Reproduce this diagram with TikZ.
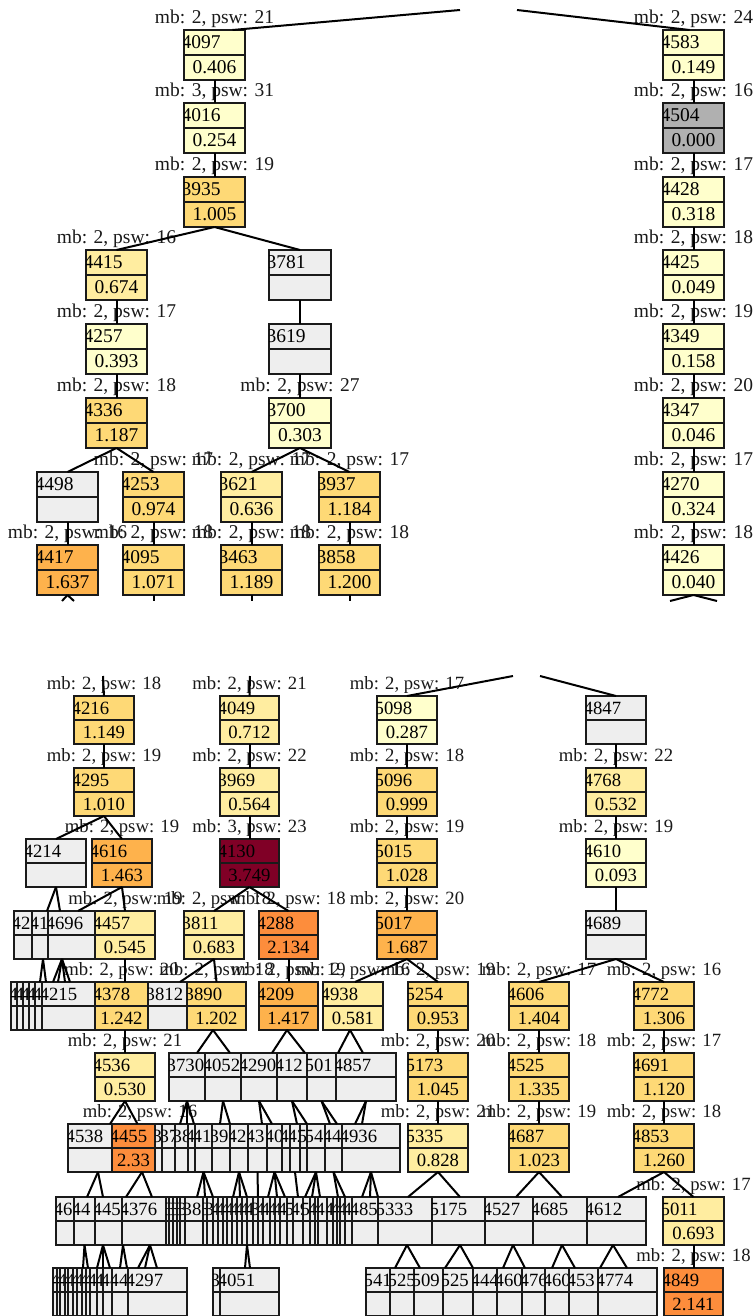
\documentclass[tikz,border=0pt]{standalone}
\usepackage{fontspec}
\setmainfont{Liberation Serif}
\definecolor{c0}{HTML}{FFFFCC}
\definecolor{c1}{HTML}{FFEDA0}
\definecolor{c2}{HTML}{FED976}
\definecolor{c3}{HTML}{FEB24C}
\definecolor{c4}{HTML}{FD8D3C}
\definecolor{c5}{HTML}{800026}
\definecolor{ge}{HTML}{EEEEEE}
\definecolor{gd}{HTML}{B0B0B0}
\definecolor{ink}{HTML}{1A1A1A}
\tikzset{
  recbox/.style={rectangle, draw=ink, line width=2pt, inner sep=0pt, outer sep=0pt},
  divline/.style={draw=ink, line width=2pt},
  idtext/.style={anchor=west, inner sep=0pt, text=black},
  valtext/.style={inner sep=0pt, text=black},
  labtext/.style={inner sep=0pt, text=ink},
  edge/.style={draw=black, line width=2pt}
}
\newcommand\mkrec[7]{%
  \node[recbox, fill=#5, minimum width={(#3-#2)*1pt}, minimum height={2*\RH*1pt}] (#1) at ({(#2+#3)/2},{#4+\RH}) {};
  \draw[divline] (#1.west) -- (#1.east);
  \begin{scope}
    \clip (#1.south west) rectangle (#1.north east);
    \node[idtext] (#1-i) at ([xshift=-2.5pt,yshift=\hh]#1.west) {#6};
    \node[valtext] (#1-v) at ([yshift=-\hh]#1.center) {#7};
  \end{scope}}
\newcommand\mklab[4]{\node[labtext] (#1) at (#2,#3) {#4};}
\begin{document}
\begin{tikzpicture}[x=1pt,y=-1pt]
\useasboundingbox (0,0) rectangle (754,1316);
\clip (0,0) rectangle (754,1316);
\fill[white] (0,0) rectangle (754,1316);
% ================= TOP SECTION =================
\begin{scope}[every node/.append style={font=\fontsize{19.5}{20}\selectfont}]
\def\RH{25}\def\hh{12.5pt}
\mklab{l4097}{214.5}{18.5}{mb: 2, psw: 21}
\mklab{l4016}{214.5}{91.5}{mb: 3, psw: 31}
\mklab{l3935}{214.5}{165.5}{mb: 2, psw: 19}
\mklab{l4415}{116.5}{238.5}{mb: 2, psw: 16}
\mklab{l4257}{116.5}{312.5}{mb: 2, psw: 17}
\mklab{l4336}{116.5}{386.5}{mb: 2, psw: 18}
\mklab{l3700}{300}{386.5}{mb: 2, psw: 27}
\mklab{l4253}{153.5}{460.5}{mb: 2, psw: 17}
\mklab{l3621}{251.5}{460.5}{mb: 2, psw: 17}
\mklab{l3937}{349.5}{460.5}{mb: 2, psw: 17}
\mklab{l4417}{67.5}{533.5}{mb: 2, psw: 16}
\mklab{l4095}{153.5}{533.5}{mb: 2, psw: 18}
\mklab{l3463}{251.5}{533.5}{mb: 2, psw: 18}
\mklab{l3858}{349.5}{533.5}{mb: 2, psw: 18}
\mklab{l4583}{693.5}{18.5}{mb: 2, psw: 24}
\mklab{l4504}{693.5}{91.5}{mb: 2, psw: 16}
\mklab{l4428}{693.5}{165.5}{mb: 2, psw: 17}
\mklab{l4425}{693.5}{238.5}{mb: 2, psw: 18}
\mklab{l4349}{693.5}{312.5}{mb: 2, psw: 19}
\mklab{l4347}{693.5}{386.5}{mb: 2, psw: 20}
\mklab{l4270}{693.5}{460.5}{mb: 2, psw: 17}
\mklab{l4426}{693.5}{533.5}{mb: 2, psw: 18}
\mkrec{n4097}{184}{245}{30}{c0}{4097}{0.406}
\mkrec{n4016}{184}{245}{103}{c0}{4016}{0.254}
\mkrec{n3935}{184}{245}{177}{c2}{3935}{1.005}
\mkrec{n4415}{86}{147}{250}{c1}{4415}{0.674}
\mkrec{n3781}{269}{331}{250}{ge}{3781}{}
\mkrec{n4257}{86}{147}{324}{c0}{4257}{0.393}
\mkrec{n3619}{269}{331}{324}{ge}{3619}{}
\mkrec{n4336}{86}{147}{398}{c2}{4336}{1.187}
\mkrec{n3700}{269}{331}{398}{c0}{3700}{0.303}
\mkrec{n4498}{37}{98}{472}{ge}{4498}{}
\mkrec{n4253}{123}{184}{472}{c2}{4253}{0.974}
\mkrec{n3621}{221}{282}{472}{c1}{3621}{0.636}
\mkrec{n3937}{319}{380}{472}{c2}{3937}{1.184}
\mkrec{n4417}{37}{98}{545}{c3}{4417}{1.637}
\mkrec{n4095}{123}{184}{545}{c2}{4095}{1.071}
\mkrec{n3463}{221}{282}{545}{c2}{3463}{1.189}
\mkrec{n3858}{319}{380}{545}{c2}{3858}{1.200}
\mkrec{n4583}{663}{724}{30}{c0}{4583}{0.149}
\mkrec{n4504}{663}{724}{103}{gd}{4504}{0.000}
\mkrec{n4428}{663}{724}{177}{c0}{4428}{0.318}
\mkrec{n4425}{663}{724}{250}{c0}{4425}{0.049}
\mkrec{n4349}{663}{724}{324}{c0}{4349}{0.158}
\mkrec{n4347}{663}{724}{398}{c0}{4347}{0.046}
\mkrec{n4270}{663}{724}{472}{c0}{4270}{0.324}
\mkrec{n4426}{663}{724}{545}{c0}{4426}{0.040}
\coordinate (ta) at (460,10);
\coordinate (tb) at (517,10);
\coordinate (s1) at (62,601);
\coordinate (s2) at (74,601);
\coordinate (s3) at (153.5,601);
\coordinate (s4) at (251.5,601);
\coordinate (s5) at (349.5,601);
\coordinate (s6) at (670,601);
\coordinate (s7) at (717,601);
\draw[edge] (ta) -- ([xshift=18pt]n4097.north);
\draw[edge] (tb) -- ([xshift=-4pt]n4583.north);
\draw[edge] (n4097.south) -- (n4016.north);
\draw[edge] (n4016.south) -- (n3935.north);
\draw[edge] (n3935.south) -- (n4415.north);
\draw[edge] (n3935.south) -- (n3781.north);
\draw[edge] (n4415.south) -- (n4257.north);
\draw[edge] (n3781.south) -- (n3619.north);
\draw[edge] (n4257.south) -- (n4336.north);
\draw[edge] (n3619.south) -- (n3700.north);
\draw[edge] (n4336.south) -- (n4498.north);
\draw[edge] (n4336.south) -- (n4253.north);
\draw[edge] (n3700.south) -- (n3621.north);
\draw[edge] (n3700.south) -- (n3937.north);
\draw[edge] (n4498.south) -- (n4417.north);
\draw[edge] (n4253.south) -- (n4095.north);
\draw[edge] (n3621.south) -- (n3463.north);
\draw[edge] (n3937.south) -- (n3858.north);
\draw[edge] (n4417.south) -- (s1);
\draw[edge] (n4417.south) -- (s2);
\draw[edge] (n4095.south) -- (s3);
\draw[edge] (n3463.south) -- (s4);
\draw[edge] (n3858.south) -- (s5);
\draw[edge] (n4583.south) -- (n4504.north);
\draw[edge] (n4504.south) -- (n4428.north);
\draw[edge] (n4428.south) -- (n4425.north);
\draw[edge] (n4425.south) -- (n4349.north);
\draw[edge] (n4349.south) -- (n4347.north);
\draw[edge] (n4347.south) -- (n4270.north);
\draw[edge] (n4270.south) -- (n4426.north);
\draw[edge] (n4426.south) -- (s6);
\draw[edge] (n4426.south) -- (s7);
\end{scope}
% ================= BOTTOM SECTION =================
\begin{scope}[every node/.append style={font=\fontsize{18.7}{19}\selectfont}]
\def\RH{24}\def\hh{12pt}
% labels
\mklab{l4216}{104}{685}{mb: 2, psw: 18}
\mklab{l4049}{249.5}{685}{mb: 2, psw: 21}
\mklab{l5098}{407}{685}{mb: 2, psw: 17}
\mklab{l4295}{104}{757}{mb: 2, psw: 19}
\mklab{l3969}{249.5}{757}{mb: 2, psw: 22}
\mklab{l5096}{407}{757}{mb: 2, psw: 18}
\mklab{l4768}{616}{757}{mb: 2, psw: 22}
\mklab{l4616}{122}{828}{mb: 2, psw: 19}
\mklab{l4130}{249.5}{828}{mb: 3, psw: 23}
\mklab{l5015}{407}{828}{mb: 2, psw: 19}
\mklab{l4610}{616}{828}{mb: 2, psw: 19}
\mklab{l4457}{125.5}{900}{mb: 2, psw: 19}
\mklab{l3811}{214}{900}{mb: 2, psw: 18}
\mklab{l4288}{288.5}{900}{mb: 2, psw: 18}
\mklab{l5017}{407}{900}{mb: 2, psw: 20}
\mklab{l4378}{121.5}{971}{mb: 2, psw: 20}
\mklab{l3890}{216.5}{971}{mb: 2, psw: 18}
\mklab{l4209}{288.5}{971}{mb: 2, psw: 19}
\mklab{l4938}{353}{971}{mb: 2, psw: 16}
\mklab{l5254}{438}{971}{mb: 2, psw: 19}
\mklab{l4606}{539}{971}{mb: 2, psw: 17}
\mklab{l4772}{664}{971}{mb: 2, psw: 16}
\mklab{l4536}{125}{1042}{mb: 2, psw: 21}
\mklab{l5173}{438}{1042}{mb: 2, psw: 20}
\mklab{l4525}{539}{1042}{mb: 2, psw: 18}
\mklab{l4691}{664}{1042}{mb: 2, psw: 17}
\mklab{l4455}{140}{1113}{mb: 2, psw: 16}
\mklab{l5335}{438}{1113}{mb: 2, psw: 21}
\mklab{l4687}{539}{1113}{mb: 2, psw: 19}
\mklab{l4853}{664}{1113}{mb: 2, psw: 18}
\mklab{l5011}{693.5}{1186}{mb: 2, psw: 17}
\mklab{l4849}{693.5}{1257}{mb: 2, psw: 18}
% R1-R3
\mkrec{n4216}{74}{134}{696}{c2}{4216}{1.149}
\mkrec{n4049}{220}{279}{696}{c1}{4049}{0.712}
\mkrec{n5098}{377}{437}{696}{c0}{5098}{0.287}
\mkrec{n4847}{586}{646}{696}{ge}{4847}{}
\mkrec{n4295}{74}{134}{768}{c2}{4295}{1.010}
\mkrec{n3969}{220}{279}{768}{c1}{3969}{0.564}
\mkrec{n5096}{377}{437}{768}{c2}{5096}{0.999}
\mkrec{n4768}{586}{646}{768}{c1}{4768}{0.532}
\mkrec{n4214}{26}{86}{839}{ge}{4214}{}
\mkrec{n4616}{92}{152}{839}{c3}{4616}{1.463}
\mkrec{n4130}{220}{279}{839}{c5}{4130}{3.749}
\mkrec{n5015}{377}{437}{839}{c2}{5015}{1.028}
\mkrec{n4610}{586}{646}{839}{c0}{4610}{0.093}
% R4
\mkrec{r4a}{14}{32}{911}{ge}{42}{}
\mkrec{r4b}{32}{48}{911}{ge}{41}{}
\mkrec{r4c}{48}{95}{911}{ge}{4696}{}
\mkrec{n4457}{95}{155}{911}{c1}{4457}{0.545}
\mkrec{n3811}{184}{244}{911}{c1}{3811}{0.683}
\mkrec{n4288}{259}{318}{911}{c4}{4288}{2.134}
\mkrec{n5017}{377}{437}{911}{c3}{5017}{1.687}
\mkrec{n4689}{586}{646}{911}{ge}{4689}{}
% R5
\mkrec{r5a}{11}{17}{982}{ge}{4}{}
\mkrec{r5b}{17}{23}{982}{ge}{4}{}
\mkrec{r5c}{23}{29}{982}{ge}{4}{}
\mkrec{r5d}{29}{35}{982}{ge}{4}{}
\mkrec{r5e}{35}{42}{982}{ge}{4}{}
\mkrec{r5f}{42}{95}{982}{ge}{4215}{}
\mkrec{n4378}{95}{148}{982}{c2}{4378}{1.242}
\mkrec{n3812}{148}{187}{982}{ge}{3812}{}
\mkrec{n3890}{187}{246}{982}{c2}{3890}{1.202}
\mkrec{n4209}{259}{318}{982}{c3}{4209}{1.417}
\mkrec{n4938}{323}{383}{982}{c1}{4938}{0.581}
\mkrec{n5254}{408}{468}{982}{c2}{5254}{0.953}
\mkrec{n4606}{509}{569}{982}{c2}{4606}{1.404}
\mkrec{n4772}{634}{694}{982}{c2}{4772}{1.306}
% R6
\mkrec{n4536}{95}{155}{1053}{c1}{4536}{0.530}
\mkrec{r6a}{169}{205}{1053}{ge}{3730}{}
\mkrec{r6b}{205}{241}{1053}{ge}{4052}{}
\mkrec{r6c}{241}{277}{1053}{ge}{4290}{}
\mkrec{r6d}{277}{307}{1053}{ge}{412}{}
\mkrec{r6e}{307}{336}{1053}{ge}{501}{}
\mkrec{r6f}{336}{396}{1053}{ge}{4857}{}
\mkrec{n5173}{408}{468}{1053}{c2}{5173}{1.045}
\mkrec{n4525}{509}{569}{1053}{c2}{4525}{1.335}
\mkrec{n4691}{634}{694}{1053}{c2}{4691}{1.120}
% R7
\mkrec{n4538}{68}{112}{1124}{ge}{4538}{}
\mkrec{n4455}{112}{155}{1124}{c4}{4455}{2.33}
\mkrec{r7a}{155}{162}{1124}{ge}{3}{}
\mkrec{r7b}{162}{175}{1124}{ge}{37}{}
\mkrec{r7c}{175}{188}{1124}{ge}{38}{}
\mkrec{r7d}{188}{195}{1124}{ge}{4}{}
\mkrec{r7e}{195}{212}{1124}{ge}{41}{}
\mkrec{r7f}{212}{230}{1124}{ge}{39}{}
\mkrec{r7g}{230}{248}{1124}{ge}{42}{}
\mkrec{r7h}{248}{267}{1124}{ge}{43}{}
\mkrec{r7i}{267}{282}{1124}{ge}{40}{}
\mkrec{r7j}{282}{290}{1124}{ge}{4}{}
\mkrec{r7k}{290}{300}{1124}{ge}{42}{}
\mkrec{r7l}{300}{307}{1124}{ge}{5}{}
\mkrec{r7m}{307}{325}{1124}{ge}{54}{}
\mkrec{r7n}{325}{342}{1124}{ge}{447}{}
\mkrec{r7o}{342}{400}{1124}{ge}{4936}{}
\mkrec{n5335}{408}{468}{1124}{c1}{5335}{0.828}
\mkrec{n4687}{509}{569}{1124}{c2}{4687}{1.023}
\mkrec{n4853}{634}{694}{1124}{c2}{4853}{1.260}
% R8
\mkrec{r8a}{56}{74}{1197}{ge}{46}{}
\mkrec{r8b}{74}{95}{1197}{ge}{44}{}
\mkrec{r8c}{95}{122}{1197}{ge}{445}{}
\mkrec{r8d}{122}{166}{1197}{ge}{4376}{}
\mkrec{r8e}{166}{169}{1197}{ge}{3}{}
\mkrec{r8f}{169}{173}{1197}{ge}{3}{}
\mkrec{r8g}{173}{177}{1197}{ge}{3}{}
\mkrec{r8h}{177}{180}{1197}{ge}{3}{}
\mkrec{r8i}{180}{185}{1197}{ge}{3}{}
\mkrec{r8j}{185}{203}{1197}{ge}{38}{}
\mkrec{r8k}{203}{207}{1197}{ge}{3}{}
\mkrec{r8l}{207}{213}{1197}{ge}{34}{}
\mkrec{r8m}{213}{218}{1197}{ge}{4}{}
\mkrec{r8n}{218}{223}{1197}{ge}{4}{}
\mkrec{r8o}{223}{227}{1197}{ge}{4}{}
\mkrec{r8p}{227}{232}{1197}{ge}{4}{}
\mkrec{r8q}{232}{237}{1197}{ge}{4}{}
\mkrec{r8r}{237}{242}{1197}{ge}{4}{}
\mkrec{r8s}{242}{247}{1197}{ge}{4}{}
\mkrec{r8t}{247}{253}{1197}{ge}{43}{}
\mkrec{r8u}{253}{258}{1197}{ge}{3}{}
\mkrec{r8v}{258}{263}{1197}{ge}{4}{}
\mkrec{r8w}{263}{270}{1197}{ge}{44}{}
\mkrec{r8x}{270}{275}{1197}{ge}{4}{}
\mkrec{r8y}{275}{280}{1197}{ge}{4}{}
\mkrec{r8z}{280}{287}{1197}{ge}{41}{}
\mkrec{r8A}{287}{293}{1197}{ge}{5}{}
\mkrec{r8B}{293}{303}{1197}{ge}{49}{}
\mkrec{r8C}{303}{310}{1197}{ge}{5}{}
\mkrec{r8D}{310}{315}{1197}{ge}{4}{}
\mkrec{r8E}{315}{318}{1197}{ge}{4}{}
\mkrec{r8F}{318}{327}{1197}{ge}{48}{}
\mkrec{r8G}{327}{333}{1197}{ge}{4}{}
\mkrec{r8H}{333}{337}{1197}{ge}{4}{}
\mkrec{r8I}{337}{340}{1197}{ge}{4}{}
\mkrec{r8J}{340}{345}{1197}{ge}{4}{}
\mkrec{r8K}{345}{352}{1197}{ge}{4}{}
\mkrec{r8L}{352}{378}{1197}{ge}{485}{}
\mkrec{n5333}{378}{432}{1197}{ge}{5333}{}
\mkrec{n5175}{432}{485}{1197}{ge}{5175}{}
\mkrec{n4527}{485}{533}{1197}{ge}{4527}{}
\mkrec{n4685}{533}{587}{1197}{ge}{4685}{}
\mkrec{n4612}{587}{646}{1197}{ge}{4612}{}
\mkrec{n5011}{663}{724}{1197}{c1}{5011}{0.693}
% R9
\mkrec{r9a}{53}{57}{1268}{ge}{4}{}
\mkrec{r9b}{57}{60}{1268}{ge}{4}{}
\mkrec{r9c}{60}{65}{1268}{ge}{4}{}
\mkrec{r9d}{65}{68}{1268}{ge}{4}{}
\mkrec{r9e}{68}{73}{1268}{ge}{4}{}
\mkrec{r9f}{73}{77}{1268}{ge}{4}{}
\mkrec{r9g}{77}{82}{1268}{ge}{4}{}
\mkrec{r9h}{82}{86}{1268}{ge}{4}{}
\mkrec{r9i}{86}{90}{1268}{ge}{4}{}
\mkrec{r9j}{90}{97}{1268}{ge}{4}{}
\mkrec{r9k}{97}{103}{1268}{ge}{4}{}
\mkrec{r9l}{103}{112}{1268}{ge}{44}{}
\mkrec{r9m}{112}{128}{1268}{ge}{44}{}
\mkrec{r9n}{128}{187}{1268}{ge}{4297}{}
\mkrec{r9o}{213}{220}{1268}{ge}{3}{}
\mkrec{r9p}{220}{279}{1268}{ge}{4051}{}
\mkrec{r9q}{366}{390}{1268}{ge}{541}{}
\mkrec{r9r}{390}{414}{1268}{ge}{525}{}
\mkrec{r9s}{414}{443}{1268}{ge}{509}{}
\mkrec{r9t}{443}{473}{1268}{ge}{525}{}
\mkrec{r9u}{473}{497}{1268}{ge}{444}{}
\mkrec{r9v}{497}{522}{1268}{ge}{460}{}
\mkrec{r9w}{522}{545}{1268}{ge}{476}{}
\mkrec{r9x}{545}{569}{1268}{ge}{460}{}
\mkrec{r9y}{569}{598}{1268}{ge}{453}{}
\mkrec{r9z}{598}{657}{1268}{ge}{4774}{}
\mkrec{n4849}{664}{723}{1268}{c4}{4849}{2.141}
% edges
\coordinate (t1) at (103,676);
\coordinate (t2) at (250,676);
\coordinate (t3) at (513,676);
\coordinate (t4) at (540,676);
\draw[edge] (t1) -- (n4216.north);
\draw[edge] (t2) -- (n4049.north);
\draw[edge] (t3) -- (n5098.north);
\draw[edge] (t4) -- (n4847.north);
\draw[edge] (n4216.south) -- (n4295.north);
\draw[edge] (n4049.south) -- (n3969.north);
\draw[edge] (n3969.south) -- (n4130.north);
\draw[edge] (n5098.south) -- (n5096.north);
\draw[edge] (n5096.south) -- (n5015.north);
\draw[edge] (n5015.south) -- (n5017.north);
\draw[edge] (n4847.south) -- (n4768.north);
\draw[edge] (n4768.south) -- (n4610.north);
\draw[edge] (n4610.south) -- (n4689.north);
\draw[edge] (n4295.south) -- (n4214.north);
\draw[edge] (n4295.south) -- (n4616.north);
\draw[edge] (n4214.south) -- ([xshift=7pt]r4b.north);
\draw[edge] (n4214.south) -- ([xshift=-11.5pt]r4c.north);
\draw[edge] (n4616.south) -- ([xshift=6.5pt]r4c.north);
\draw[edge] (n4616.south) -- (n4457.north);
\draw[edge] (n4130.south) -- (n3811.north);
\draw[edge] (n4130.south) -- (n4288.north);
\draw[edge] ([xshift=3pt]r4b.south) -- ([xshift=1.5pt]r5e.north);
\draw[edge] ([xshift=3pt]r4b.south) -- ([xshift=-22.5pt]r5f.north);
\draw[edge] ([xshift=-9.5pt]r4c.south) -- ([xshift=-15.5pt]r5f.north);
\draw[edge] ([xshift=-9.5pt]r4c.south) -- ([xshift=-10.5pt]r5f.north);
\draw[edge] ([xshift=-9.5pt]r4c.south) -- ([xshift=-3.5pt]r5f.north);
\draw[edge] ([xshift=-9.5pt]r4c.south) -- ([xshift=1.5pt]r5f.north);
\draw[edge] (n4457.south) -- ([xshift=3.5pt]n4378.north);
\draw[edge] (n3811.south) -- ([xshift=12.5pt]n3812.north);
\draw[edge] (n3811.south) -- (n3890.north);
\draw[edge] (n4288.south) -- (n4209.north);
\draw[edge] (n5017.south) -- ([xshift=2pt]n4938.north);
\draw[edge] (n5017.south) -- (n5254.north);
\draw[edge] (n4689.south) -- (n4606.north);
\draw[edge] (n4689.south) -- (n4772.north);
\draw[edge] ([xshift=3.5pt]n4378.south) -- (n4536.north);
\draw[edge] ([xshift=-3.5pt]n3890.south) -- ([xshift=10pt]r6a.north);
\draw[edge] ([xshift=-3.5pt]n3890.south) -- ([xshift=7pt]r6b.north);
\draw[edge] ([xshift=-1.5pt]n4209.south) -- ([xshift=13pt]r6c.north);
\draw[edge] ([xshift=-1.5pt]n4209.south) -- ([xshift=13pt]r6d.north);
\draw[edge] ([xshift=-3pt]n4938.south) -- ([xshift=16.5pt]r6e.north);
\draw[edge] ([xshift=-3pt]n4938.south) -- ([xshift=-3pt]r6f.north);
\draw[edge] (n5254.south) -- (n5173.north);
\draw[edge] (n4606.south) -- (n4525.north);
\draw[edge] (n4772.south) -- (n4691.north);
\draw[edge] (n4536.south) -- ([xshift=20pt]n4538.north);
\draw[edge] (n4536.south) -- ([xshift=4pt]n4455.north);
\draw[edge] (r6a.south) -- ([xshift=-1.5pt]r7c.north);
\draw[edge] (r6a.south) -- ([xshift=5.5pt]r7c.north);
\draw[edge] (r6a.south) -- ([xshift=2.5pt]r7d.north);
\draw[edge] (r6b.south) -- ([xshift=-1pt]r7f.north);
\draw[edge] (r6b.south) -- ([xshift=-9pt]r7g.north);
\draw[edge] (r6c.south) -- ([xshift=4.5pt]r7h.north);
\draw[edge] (r6c.south) -- ([xshift=-2.5pt]r7i.north);
\draw[edge] (r6d.south) -- ([xshift=2pt]r7k.north);
\draw[edge] (r6d.south) -- ([xshift=-9pt]r7m.north);
\draw[edge] (r6e.south) -- ([xshift=-3.5pt]r7n.north);
\draw[edge] (r6e.south) -- ([xshift=3.5pt]r7n.north);
\draw[edge] (r6f.south) -- ([xshift=-16pt]r7o.north);
\draw[edge] (r6f.south) -- ([xshift=-9pt]r7o.north);
\draw[edge] (n5173.south) -- (n5335.north);
\draw[edge] (n4525.south) -- (n4687.north);
\draw[edge] (n4691.south) -- (n4853.north);
\draw[edge] ([xshift=8pt]n4538.south) -- ([xshift=2.5pt]r8b.north);
\draw[edge] ([xshift=8pt]n4538.south) -- ([xshift=-5.5pt]r8c.north);
\draw[edge] ([xshift=8.5pt]n4455.south) -- ([xshift=-18pt]r8d.north);
\draw[edge] ([xshift=8.5pt]n4455.south) -- ([xshift=8pt]r8d.north);
\draw[edge] (r7e.south) -- ([xshift=3pt]r8j.north);
\draw[edge] (r7e.south) -- (r8k.north);
\draw[edge] (r7e.south) -- ([xshift=-2.5pt]r8m.north);
\draw[edge] (r7g.south) -- ([xshift=-1.5pt]r8q.north);
\draw[edge] (r7g.south) -- ([xshift=0.5pt]r8r.north);
\draw[edge] (r7g.south) -- ([xshift=2.5pt]r8s.north);
\draw[edge] (r7h.south) -- ([xshift=2.5pt]r8u.north);
\draw[edge] (r7i.south) -- ([xshift=1.5pt]r8w.north);
\draw[edge] (r7i.south) -- ([xshift=-0.5pt]r8y.north);
\draw[edge] (r7i.south) -- ([xshift=1.5pt]r8z.north);
\draw[edge] (r7k.south) -- (r8B.north);
\draw[edge] (r7m.south) -- ([xshift=-1.5pt]r8C.north);
\draw[edge] (r7m.south) -- ([xshift=-0.5pt]r8D.north);
\draw[edge] (r7m.south) -- ([xshift=-2.5pt]r8F.north);
\draw[edge] (r7n.south) -- ([xshift=-0.5pt]r8I.north);
\draw[edge] (r7n.south) -- ([xshift=-3.5pt]r8K.north);
\draw[edge] (r7o.south) -- ([xshift=-3pt]r8L.north);
\draw[edge] (r7o.south) -- ([xshift=5pt]r8L.north);
\draw[edge] (r7o.south) -- ([xshift=-27pt]n5333.north);
\draw[edge] (n5335.south) -- ([xshift=3pt]n5333.north);
\draw[edge] (n5335.south) -- ([xshift=1.5pt]n5175.north);
\draw[edge] (n4687.south) -- ([xshift=7pt]n4527.north);
\draw[edge] (n4687.south) -- ([xshift=2pt]n4685.north);
\draw[edge] (n4853.south) -- ([xshift=1.5pt]n4612.north);
\draw[edge] (n4853.south) -- (n5011.north);
\draw[edge] (r8b.south) -- ([xshift=-1pt]r9h.north);
\draw[edge] (r8b.south) -- (r9i.north);
\draw[edge] ([xshift=-5.5pt]r8c.south) -- ([xshift=-3pt]r9k.north);
\draw[edge] ([xshift=-5.5pt]r8c.south) -- ([xshift=-4.5pt]r9l.north);
\draw[edge] ([xshift=-5.5pt]r8c.south) -- ([xshift=2.5pt]r9l.north);
\draw[edge] ([xshift=-21pt]r8d.south) -- (r9m.north);
\draw[edge] ([xshift=-21pt]r8d.south) -- ([xshift=7pt]r9m.north);
\draw[edge] ([xshift=6pt]r8d.south) -- ([xshift=-19.5pt]r9n.north);
\draw[edge] ([xshift=6pt]r8d.south) -- ([xshift=-12.5pt]r9n.north);
\draw[edge] ([xshift=6pt]r8d.south) -- ([xshift=-0.5pt]r9n.north);
\draw[edge] ([xshift=-3pt]r8t.south) -- ([xshift=-4.5pt]r9p.north);
\draw[edge] ([xshift=-3pt]r8t.south) -- ([xshift=0.5pt]r9p.north);
\draw[edge] ([xshift=2pt]n5333.south) -- ([xshift=-7pt]r9r.north);
\draw[edge] ([xshift=2pt]n5333.south) -- ([xshift=-8.5pt]r9s.north);
\draw[edge] ([xshift=1.5pt]n5175.south) -- ([xshift=-13pt]r9t.north);
\draw[edge] ([xshift=1.5pt]n5175.south) -- ([xshift=-12pt]r9u.north);
\draw[edge] ([xshift=4pt]n4527.south) -- ([xshift=-6.5pt]r9v.north);
\draw[edge] ([xshift=4pt]n4527.south) -- ([xshift=-8.5pt]r9w.north);
\draw[edge] ([xshift=2pt]n4685.south) -- ([xshift=-5pt]r9x.north);
\draw[edge] ([xshift=2pt]n4685.south) -- ([xshift=-8.5pt]r9y.north);
\draw[edge] ([xshift=-3.5pt]n4612.south) -- ([xshift=-27.5pt]r9z.north);
\draw[edge] ([xshift=-3.5pt]n4612.south) -- ([xshift=-0.5pt]r9z.north);
\draw[edge] (n5011.south) -- (n4849.north);
\end{scope}
\end{tikzpicture}
\end{document}
